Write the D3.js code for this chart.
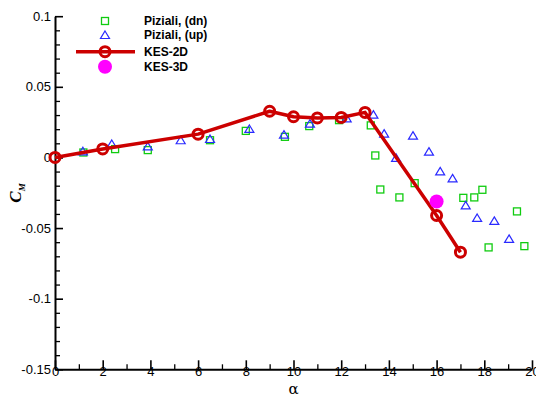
<!DOCTYPE html>
<html>
<head>
<meta charset="utf-8">
<script src="https://cdn.jsdelivr.net/npm/d3@7"></script>
<style>
  html, body { margin: 0; padding: 0; background: #fff; }
  svg { display: block; font-family: "Liberation Sans", Arial, sans-serif; }
</style>
</head>
<body>
<div id="chart"></div>
<script>
// Pitching moment coefficient vs angle of attack
const pizialiDnAlpha = [1.19, 2.52, 3.89, 6.5, 8.0, 9.64, 10.66, 11.91, 13.24, 13.43, 13.64, 14.44, 15.08, 17.12, 17.58, 17.92, 18.18, 19.37, 19.68];
const pizialiDnCm    = [0.0035, 0.0059, 0.0052, 0.0122, 0.0188, 0.0146, 0.0222, 0.0264, 0.0227, 0.0014, -0.0227, -0.0283, -0.0182, -0.0286, -0.0283, -0.0229, -0.0637, -0.0382, -0.0628];

const pizialiUpAlpha = [1.17, 2.38, 3.89, 5.27, 6.5, 8.15, 9.6, 10.69, 12.23, 13.35, 13.8, 14.3, 15.01, 15.68, 16.15, 16.67, 17.22, 17.7, 18.42, 19.04];
const pizialiUpCm    = [0.004, 0.0092, 0.0075, 0.0118, 0.0127, 0.0198, 0.0158, 0.0236, 0.0273, 0.030, 0.0165, -0.0007, 0.0151, 0.0038, -0.0102, -0.0152, -0.0343, -0.0432, -0.0453, -0.058];

const kes2dAlpha = [0, 2, 6, 9, 10, 11, 12, 13, 16, 17];
const kes2dCm    = [0, 0.006, 0.0165, 0.0327, 0.0288, 0.028, 0.0283, 0.0319, -0.0411, -0.0671];

const kes3dAlpha = [16];
const kes3dCm    = [-0.0312];

const xTicks = [0, 2, 4, 6, 8, 10, 12, 14, 16, 18, 20];
const yTicks = [-0.15, -0.1, -0.05, 0, 0.05, 0.1];

const legendLabels = ["Piziali, (dn)", "Piziali, (up)", "KES-2D", "KES-3D"];

const W = 536, H = 398;
const svg = d3.select("#chart").append("svg").attr("width", W).attr("height", H);

const x = d3.scaleLinear().domain([0, 20]).range([55, 532]);
const y = d3.scaleLinear().domain([-0.15, 0.1]).range([369.3, 16.2]);

const GREEN = "#10cc10", BLUE = "#2a2aff", RED = "#cc0000", MAGENTA = "#ff00ff";

// Axes: ticks point into the plot
const xAxis = d3.axisBottom(x).tickValues(xTicks).tickSizeInner(-9).tickSizeOuter(0)
  .tickFormat(d3.format("d"));
const xMinor = d3.axisBottom(x).tickValues(d3.range(1, 20, 2)).tickSize(-5).tickFormat("");
const yAxis = d3.axisLeft(y).tickValues(yTicks).tickSizeInner(-8).tickSizeOuter(0)
  .tickFormat(d => d === 0 ? "0" : String(+d.toFixed(2)));
const yMinorVals = d3.range(-14, 10).map(i => i / 100).filter(v => Math.abs(Math.round(v * 100) % 5) !== 0);
const yMinor = d3.axisLeft(y).tickValues(yMinorVals).tickSize(-5).tickFormat("");

function styleAxis(g) {
  g.attr("font-family", null);
  g.selectAll("path").attr("stroke", "#000").attr("stroke-width", 2);
  g.selectAll("line").attr("stroke", "#000").attr("stroke-width", 1.6);
  g.selectAll("text").attr("fill", "#000").attr("font-size", 13);
}

const gxm = svg.append("g").attr("transform", "translate(0,369.3)").call(xMinor);
gxm.select(".domain").remove();
gxm.selectAll("line").attr("stroke", "#000").attr("stroke-width", 1.3);
const gym = svg.append("g").attr("transform", "translate(55,0)").call(yMinor);
gym.select(".domain").remove();
gym.selectAll("line").attr("stroke", "#000").attr("stroke-width", 1.3);

const gx = svg.append("g").attr("transform", "translate(0,369.3)").call(xAxis).call(styleAxis);
gx.selectAll("text").attr("dy", "0.2em").attr("y", 4);
const gy = svg.append("g").attr("transform", "translate(55,0)").call(yAxis).call(styleAxis);
gy.selectAll("text").attr("x", -4);

// Axis titles
svg.append("text").attr("x", x(10)).attr("y", 394).attr("text-anchor", "middle")
  .style("font-size", "15px").style("font-family", "'DejaVu Serif', serif").text("α");
const yl = svg.append("text").attr("transform", "translate(20.5,193) rotate(-90)")
  .attr("text-anchor", "middle")
  .style("font-family", "'Liberation Serif', 'Times New Roman', serif")
  .style("font-style", "italic").style("font-weight", "bold");
yl.append("tspan").style("font-size", "17px").text("C");
yl.append("tspan").style("font-size", "9px").attr("dy", 4.5).text("M");

// Markers
function square(g, cx, cy, color) {
  g.append("rect").attr("x", cx - 3.5).attr("y", cy - 3.5).attr("width", 7).attr("height", 7)
    .attr("fill", "none").attr("stroke", color).attr("stroke-width", 1.3);
}
function triangle(g, cx, cy, color) {
  g.append("path").attr("d", `M${cx},${cy - 4.5}L${cx + 4.5},${cy + 3}L${cx - 4.5},${cy + 3}Z`)
    .attr("fill", "none").attr("stroke", color).attr("stroke-width", 1.2);
}

const plot = svg.append("g");
pizialiDnAlpha.forEach((a, i) => square(plot, x(a), y(pizialiDnCm[i]), GREEN));
pizialiUpAlpha.forEach((a, i) => triangle(plot, x(a), y(pizialiUpCm[i]), BLUE));

const line = d3.line().x((d, i) => x(kes2dAlpha[i])).y((d, i) => y(kes2dCm[i]));
plot.append("path").datum(kes2dCm).attr("d", line).attr("fill", "none")
  .attr("stroke", RED).attr("stroke-width", 3.5).attr("stroke-linejoin", "round");
kes2dAlpha.forEach((a, i) => {
  plot.append("circle").attr("cx", x(a)).attr("cy", y(kes2dCm[i])).attr("r", 5)
    .attr("fill", "none").attr("stroke", RED).attr("stroke-width", 3);
});
kes3dAlpha.forEach((a, i) => {
  plot.append("circle").attr("cx", x(a)).attr("cy", y(kes3dCm[i])).attr("r", 7)
    .attr("fill", MAGENTA);
});

// Legend
const lg = svg.append("g");
const lx = 105, ly = [21, 35, 51.7, 66.7];
square(lg, lx, ly[0], GREEN);
triangle(lg, lx, ly[1] + 0.5, BLUE);
lg.append("line").attr("x1", 76).attr("x2", 135).attr("y1", ly[2]).attr("y2", ly[2])
  .attr("stroke", RED).attr("stroke-width", 3.5);
lg.append("circle").attr("cx", lx).attr("cy", ly[2]).attr("r", 5)
  .attr("fill", "none").attr("stroke", RED).attr("stroke-width", 3);
lg.append("circle").attr("cx", lx).attr("cy", ly[3]).attr("r", 7).attr("fill", MAGENTA);
legendLabels.forEach((t, i) => {
  lg.append("text").attr("x", 144).attr("y", ly[i]).attr("dy", "0.35em")
    .attr("font-size", 12).attr("font-weight", "bold").attr("fill", "#000").text(t);
});
</script>
</body>
</html>
